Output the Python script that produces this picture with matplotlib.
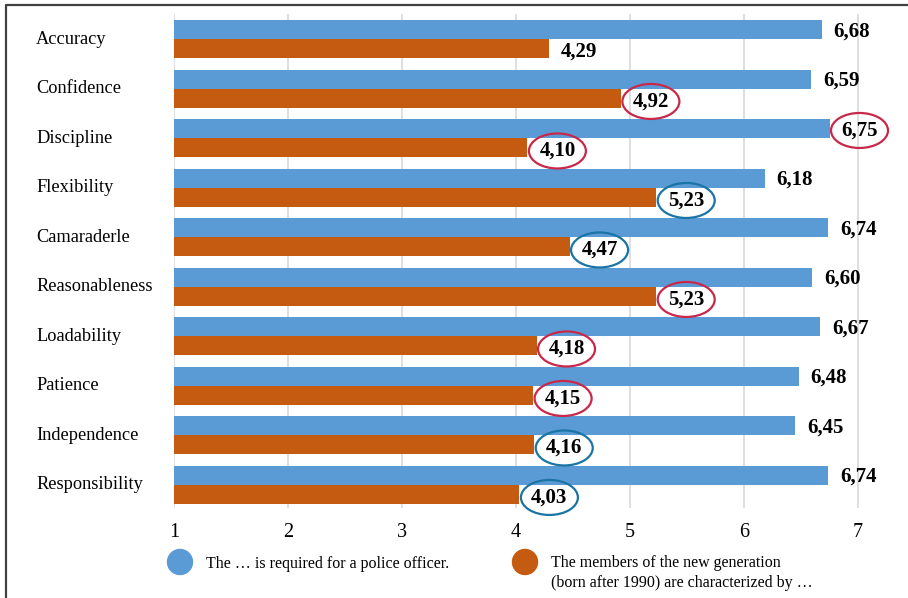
import numpy as np
import matplotlib.pyplot as plt
from matplotlib.patches import Ellipse, Circle
from matplotlib.transforms import blended_transform_factory

plt.rcParams['font.family'] = ['Liberation Serif', 'DejaVu Serif']

categories = ["Accuracy", "Confidence", "Discipline", "Flexibility", "Camaraderle",
              "Reasonableness", "Loadability", "Patience", "Independence", "Responsibility"]
required = [6.68, 6.59, 6.75, 6.18, 6.74, 6.60, 6.67, 6.48, 6.45, 6.74]
new_gen = [4.29, 4.92, 4.10, 5.23, 4.47, 5.23, 4.18, 4.15, 4.16, 4.03]

# ring colour around a label: None, "r" (red) or "b" (blue)
required_ring = [None, None, "r", None, None, None, None, None, None, None]
new_gen_ring = [None, "r", "r", "b", "b", "r", "r", "r", "b", "b"]

legend_labels = ["The \u2026 is required for a police officer.",
                 "The members of the new generation\n(born after 1990) are characterized by \u2026"]

BLUE = "#5B9BD5"
ORANGE = "#C55A11"
RING = {"r": "#C8284A", "b": "#1A74A4"}

W, H = 908, 598
fig = plt.figure(figsize=(W / 100, H / 100), dpi=100)

# main axes in pixel terms: x=1 at 174px, 114px per unit
ax = fig.add_axes([174 / W, (H - 508) / H, 6.4 * 114 / W, 494 / H])
ax.set_xlim(1, 7.4)
ax.set_ylim(9.465, -0.515)

y = np.arange(len(categories))
bh = 0.384
ax.barh(y - bh / 2, required, height=bh, left=0, color=BLUE, zorder=2)
ax.barh(y + bh / 2, new_gen, height=bh, left=0, color=ORANGE, zorder=2)

ax.set_xticks(range(1, 8))
ax.set_yticks([])
ax.grid(axis="x", color="#d9d9d9", linewidth=1.2, zorder=0)
ax.tick_params(axis="x", length=0, pad=11, labelsize=14.5)
for s in ax.spines.values():
    s.set_visible(False)

# value labels, offset right of each bar end
off = 30 / 114
ew, eh = 57 / 114, 35 / 49.5
for vals, rings, dy in [(required, required_ring, -bh / 2 + 0.03),
                        (new_gen, new_gen_ring, bh / 2 + 0.06)]:
    for i, (v, r) in enumerate(zip(vals, rings)):
        cx, cy = v + off, i + dy
        ax.text(cx, cy, f"{v:.2f}".replace(".", ","), ha="center", va="center",
                fontsize=15, fontweight="bold", zorder=4)
        if r:
            ax.add_patch(Ellipse((cx, cy), ew, eh, fill=False, clip_on=False,
                                 edgecolor=RING[r], linewidth=1.6, zorder=5))

# category names, left aligned
tr = blended_transform_factory(fig.transFigure, ax.transData)
for i, c in enumerate(categories):
    fig.text(36 / W, i, c, transform=tr, ha="left", va="center", fontsize=13.2)

# overlay in pixel coordinates for frame and legend
ov = fig.add_axes([0, 0, 1, 1], facecolor="none")
ov.set_xlim(0, W)
ov.set_ylim(H, 0)
ov.axis("off")
ov.plot([5.5, 5.5, W], [H, 5, 5], color="#404040", linewidth=1.6)

ov.add_patch(Circle((180, 562), 12.5, color=BLUE))
ov.text(206, 564, legend_labels[0], ha="left", va="center", fontsize=11.5)
ov.add_patch(Circle((525, 562), 12.5, color=ORANGE))
ov.text(551, 573, legend_labels[1], ha="left", va="center", fontsize=11.5,
        linespacing=1.3)

fig.savefig("out.png", dpi=100)
